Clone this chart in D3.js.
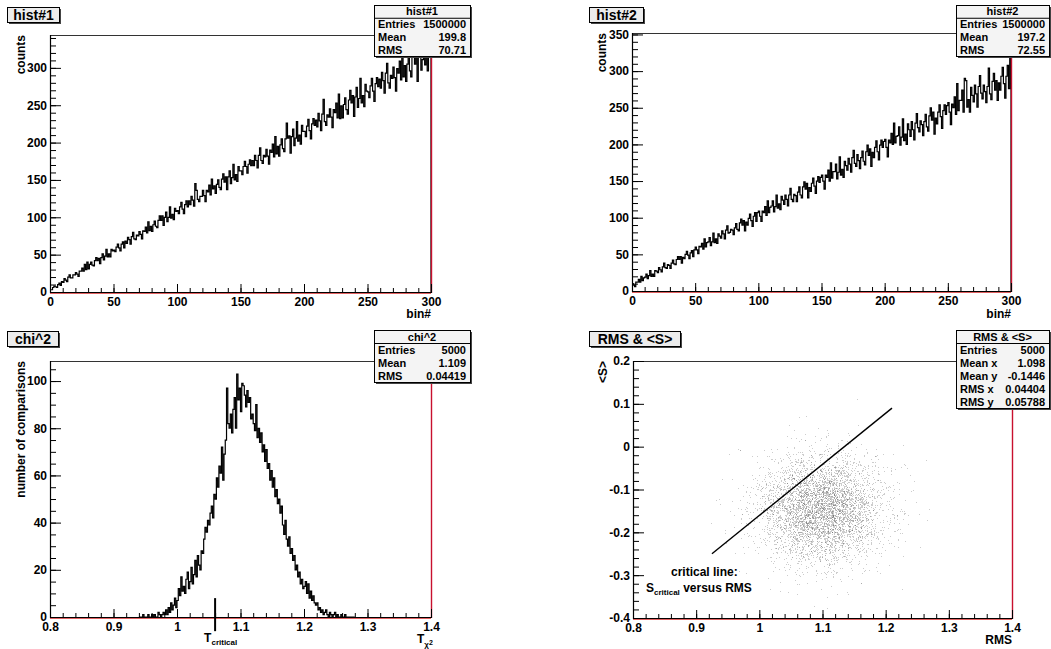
<!DOCTYPE html>
<html>
<head>
<meta charset="utf-8">
<script src="https://cdn.jsdelivr.net/npm/d3@7"></script>
<style>
  body { margin: 0; background: #fff; }
  svg { display: block; font-family: "Liberation Sans", Arial, sans-serif; font-weight: bold; }
</style>
</head>
<body>
<svg id="chart" width="1051" height="649"></svg>
<script>
// ---- data ----
// hist#1 : 300 bins of width 1 on [0,300]
const hist1 = [
  3,3,6,8,7,6,10,12,9,14, 13,18,16,14,20,23,19,19,23,23, 26,24,21,28,28,32,28,37,30,40,
  31,37,40,36,35,42,46,42,45,38, 46,51,43,48,57,47,51,47,57,55, 56,54,60,64,59,55,64,67,59,68,
  65,73,70,64,74,80,71,70,76,75, 81,77,71,82,81,87,79,94,82,88, 81,90,95,88,86,96,102,96,102,89,
  100,107,94,100,114,99,104,97,112,108, 109,105,114,120,111,105,117,122,114,122, 117,128,123,115,145,136,124,121,128,128,
  136,129,121,136,134,143,130,151,138,142, 132,144,150,140,137,151,158,147,154,137, 154,162,145,153,171,150,157,148,168,162,
  162,157,168,175,168,159,171,177,169,176, 169,183,176,166,183,193,176,172,183,181, 191,182,171,190,187,198,181,208,185,195,
  182,197,205,192,188,205,226,206,209,186, 208,218,196,206,228,202,210,198,223,215, 215,208,222,231,216,205,225,232,223,230,
  221,239,229,216,238,258,228,223,237,234, 245,234,220,244,240,253,233,265,232,249, 233,251,260,244,238,257,270,253,263,235,
  261,274,247,259,286,253,263,248,278,269, 268,260,276,286,269,255,279,287,275,285, 273,294,283,266,293,306,280,273,290,286,
  301,287,269,299,293,309,284,323,288,303, 282,305,316,296,288,314,328,305,318,282, 316,332,297,311,346,304,316,296,335,323
];
// hist#2 : 300 bins of width 1 on [0,300]
const hist2 = [
  10,8,6,12,12,16,12,20,14,18, 19,23,17,21,28,20,23,20,28,27, 25,32,29,26,33,38,32,31,36,35,
  31,38,42,37,36,43,47,43,47,38, 46,44,50,54,49,44,52,55,47,56, 60,56,51,61,60,65,57,71,60,66,
  67,73,62,67,79,66,71,65,78,75, 72,82,78,71,83,89,79,80,84,83, 77,86,92,84,82,93,98,90,96,82,
  94,90,99,105,96,88,102,107,95,107, 109,102,95,109,107,115,103,123,107,114, 116,123,108,115,131,113,119,111,129,124,
  118,131,125,116,131,140,125,122,132,130, 122,135,142,131,127,142,149,139,147,127, 141,136,147,154,143,133,150,156,148,155,
  158,150,139,158,155,165,150,175,154,163, 163,173,153,162,183,158,166,155,177,171, 165,181,173,162,182,192,174,170,186,178,
  167,182,191,177,172,190,199,185,194,170, 189,182,196,205,190,179,199,206,196,204, 207,196,183,206,202,215,200,229,202,211,
  212,224,199,210,235,205,214,200,228,220, 211,231,220,206,229,242,223,217,232,227, 212,231,241,224,218,239,250,233,244,214,
  236,228,244,254,238,222,246,254,241,253, 257,244,227,255,250,265,241,283,246,260, 260,274,244,290,287,251,261,244,278,267,
  258,281,269,251,279,294,270,262,281,272, 257,279,304,269,261,286,297,274,287,260, 284,274,293,305,283,263,293,308,276,352
];
// chi^2 : bins of width 0.002 starting at 0.94 (everything below and above is empty)
const chi2Start = 0.94;
const chi2Width = 0.002;
const chi2 = [
  0,0,0,1,0,0,0,1,0,0,  1,0,1,0,0,2,1,0,1,2,  1,3,1,4,2,6,3,5,8,4,
  7,12,9,17,11,13,10,16,19,12,  15,21,14,18,24,17,26,22,20,28,  27,33,38,36,41,39,44,47,42,52,
  50,59,55,64,61,72,58,69,75,97,  82,80,86,78,88,93,80,103,92,97,  87,99,98,94,89,96,91,93,84,86,
  82,79,90,76,80,74,78,70,73,66,  71,63,65,58,62,55,59,51,54,48,  50,44,47,39,35,41,33,30,34,27,
  29,24,26,20,22,17,19,14,16,12,  13,15,10,14,8,11,7,9,6,5,  6,3,4,2,3,1,2,3,1,0,
  2,1,0,1,2,0,1,0,0,1,  0,0,1,0,0,0,0,0,0,0
];
const tCritical = 1.06;
const tCriticalMark = [-6, 8];

// RMS & <S> : estimated point counts in cells of 0.04 x 0.04
const scatterX = [0.90, 0.94, 0.98, 1.02, 1.06, 1.10, 1.14, 1.18, 1.22, 1.26];  // cell left edges
const scatterY = [0.06, 0.02, -0.02, -0.06, -0.10, -0.14, -0.18, -0.22, -0.26, -0.30, -0.34, -0.38]; // cell bottom edges
const scatterCell = 0.04;
const scatterCounts = [
  [0,0,0,0,1,0,1,0,0,0],
  [0,0,0,2,3,4,2,0,0,0],
  [0,0,3,10,20,19,10,2,0,0],
  [0,1,10,42,88,85,40,9,1,0],
  [0,3,26,112,232,226,104,22,2,0],
  [0,5,43,190,395,380,172,36,4,0],
  [1,5,45,200,410,395,178,37,4,0],
  [0,3,31,136,280,270,122,26,3,0],
  [0,2,13,60,122,116,53,11,1,0],
  [0,0,4,17,34,33,15,3,1,0],
  [0,0,1,3,6,6,3,1,0,0],
  [0,0,0,1,1,1,0,0,0,0]
];
const critLineX = [0.925, 1.21];
const critLineY = [-0.25, 0.09];

// stats boxes
const stats1 = [["Entries", "1500000"], ["Mean", "199.8"], ["RMS", "70.71"]];
const stats2 = [["Entries", "1500000"], ["Mean", "197.2"], ["RMS", "72.55"]];
const stats3 = [["Entries", "5000"], ["Mean", "1.109"], ["RMS", "0.04419"]];
const stats4 = [["Entries", "5000"], ["Mean x", "1.098"], ["Mean y", "-0.1446"], ["RMS x", "0.04404"], ["RMS y", "0.05788"]];

// axis ticks
const binTicks = [0, 50, 100, 150, 200, 250, 300];
const count1Ticks = [0, 50, 100, 150, 200, 250, 300];
const count2Ticks = [0, 50, 100, 150, 200, 250, 300, 350];
const tTicks = [0.8, 0.9, 1.0, 1.1, 1.2, 1.3, 1.4];
const compTicks = [0, 20, 40, 60, 80, 100];
const sTicks = [-0.4, -0.3, -0.2, -0.1, 0, 0.1, 0.2];

const svg = d3.select('#chart');
const fmt = d => String(+d.toFixed(3));
let clipId = 0;

// frame + scales of one pad
function makePanel(p) {
  const x = d3.scaleLinear().domain(p.xDomain).range([p.left, p.right]);
  const y = d3.scaleLinear().domain(p.yDomain).range([p.bottom, p.top]);
  svg.append('rect')
    .attr('x', p.left).attr('y', p.top)
    .attr('width', p.right - p.left).attr('height', p.bottom - p.top)
    .attr('fill', '#fff');
  const id = 'clip' + (clipId++);
  svg.append('clipPath').attr('id', id).append('rect')
    .attr('x', p.left).attr('y', p.top)
    .attr('width', p.right - p.left).attr('height', p.bottom - p.top);
  const g = svg.append('g').attr('clip-path', `url(#${id})`);
  return { x, y, g, p };
}

// ROOT style axes: ticks pointing inwards, minor ticks, red right/bottom frame
function drawAxes(P, o) {
  const { x, y, p } = P;
  const xMinor = d3.range(p.xDomain[0], p.xDomain[1] + 1e-9, o.xMinor);
  const yMinor = d3.range(o.yMinorStart, p.yDomain[1] + 1e-9, o.yMinor);

  // frame edges
  svg.append('line').attr('x1', p.left).attr('x2', p.right).attr('y1', p.top + 0.5).attr('y2', p.top + 0.5)
    .attr('stroke', '#333').attr('stroke-width', 1.2);
  svg.append('line').attr('x1', p.right + 0.5).attr('x2', p.right + 0.5).attr('y1', p.top).attr('y2', p.bottom + 1)
    .attr('stroke', '#c8102e').attr('stroke-width', 1.4);
  svg.append('line').attr('x1', p.left).attr('x2', p.right).attr('y1', p.bottom + 1.5).attr('y2', p.bottom + 1.5)
    .attr('stroke', '#e06060').attr('stroke-width', 1);

  const styleAxis = g => {
    g.attr('font-size', 12).attr('font-family', null);
    g.select('.domain').remove();
  };

  svg.append('g').attr('transform', `translate(0,${p.bottom})`)
    .call(d3.axisBottom(x).tickValues(xMinor).tickSize(-4).tickFormat(''))
    .call(styleAxis);
  svg.append('g').attr('transform', `translate(0,${p.bottom})`)
    .call(d3.axisBottom(x).tickValues(o.xTicks).tickSize(-8).tickPadding(5).tickFormat(fmt))
    .call(styleAxis);
  svg.append('g').attr('transform', `translate(${p.left},0)`)
    .call(d3.axisLeft(y).tickValues(yMinor).tickSize(-6).tickFormat(''))
    .call(styleAxis);
  svg.append('g').attr('transform', `translate(${p.left},0)`)
    .call(d3.axisLeft(y).tickValues(o.yTicks).tickSize(-11).tickPadding(3).tickFormat(fmt))
    .call(styleAxis);

  svg.append('line').attr('x1', p.left).attr('x2', p.right + 1).attr('y1', p.bottom + 0.5).attr('y2', p.bottom + 0.5)
    .attr('stroke', '#000').attr('stroke-width', 1.2);
  svg.append('line').attr('x1', p.left + 0.5).attr('x2', p.left + 0.5).attr('y1', p.top).attr('y2', p.bottom + 1)
    .attr('stroke', '#000').attr('stroke-width', 1.2);
}

function titleBox(b, text) {
  svg.append('rect').attr('x', b.x + 2).attr('y', b.y + 2).attr('width', b.w).attr('height', b.h).attr('fill', '#444');
  svg.append('rect').attr('x', b.x + 0.5).attr('y', b.y + 0.5).attr('width', b.w).attr('height', b.h)
    .attr('fill', '#ececec').attr('stroke', '#000').attr('stroke-width', 1);
  svg.append('text').attr('x', b.x + b.w / 2 + 0.5).attr('y', b.y + b.h / 2 + 5.5)
    .attr('text-anchor', 'middle').attr('font-size', 14).text(text);
}

function statsBox(b, title, rows) {
  const rh = b.h / (rows.length + 1);
  svg.append('rect').attr('x', b.x + 2).attr('y', b.y + 2).attr('width', b.w).attr('height', b.h).attr('fill', '#444');
  svg.append('rect').attr('x', b.x + 0.5).attr('y', b.y + 0.5).attr('width', b.w).attr('height', b.h)
    .attr('fill', '#f4f4f4').attr('stroke', '#000').attr('stroke-width', 1);
  svg.append('line').attr('x1', b.x).attr('x2', b.x + b.w).attr('y1', b.y + rh + 0.5).attr('y2', b.y + rh + 0.5)
    .attr('stroke', '#000');
  svg.append('text').attr('x', b.x + b.w / 2).attr('y', b.y + rh - 2.5)
    .attr('text-anchor', 'middle').attr('font-size', 11).text(title);
  rows.forEach((r, i) => {
    const yy = b.y + rh * (i + 2) - 2.5;
    svg.append('text').attr('x', b.x + 4).attr('y', yy).attr('font-size', 11).text(r[0]);
    svg.append('text').attr('x', b.x + b.w - 4).attr('y', yy).attr('text-anchor', 'end').attr('font-size', 11).text(r[1]);
  });
}

function yTitle(xPos, yTop, text) {
  svg.append('text').attr('transform', `translate(${xPos},${yTop}) rotate(-90)`)
    .attr('text-anchor', 'end').attr('font-size', 12).text(text);
}

function xTitle(xRight, yPos, text) {
  svg.append('text').attr('x', xRight).attr('y', yPos).attr('text-anchor', 'end').attr('font-size', 12).text(text);
}

// histogram outline (ROOT "hist" style step line)
function histPath(P, counts, lo, w) {
  const pts = [[lo, 0]];
  counts.forEach((c, i) => { pts.push([lo + i * w, c]); pts.push([lo + (i + 1) * w, c]); });
  pts.push([lo + counts.length * w, 0]);
  P.g.append('path')
    .attr('d', d3.line().x(d => P.x(d[0])).y(d => P.y(d[1]))(pts))
    .attr('fill', 'none').attr('stroke', '#000').attr('stroke-width', 1.2);
}

// ---------- pad 1 : hist#1 ----------
const P1 = makePanel({ left: 50, right: 431, top: 35, bottom: 292, xDomain: [0, 300], yDomain: [0, 344] });
histPath(P1, hist1, 0, 1);
drawAxes(P1, { xTicks: binTicks, xMinor: 10, yTicks: count1Ticks, yMinor: 10, yMinorStart: 0 });
yTitle(25, 35, 'counts');
xTitle(431, 318, 'bin#');
titleBox({ x: 7, y: 7, w: 52, h: 15 }, 'hist#1');
statsBox({ x: 374, y: 5, w: 96, h: 51 }, 'hist#1', stats1);

// ---------- pad 2 : hist#2 ----------
const P2 = makePanel({ left: 632, right: 1011, top: 33, bottom: 291, xDomain: [0, 300], yDomain: [0, 352] });
histPath(P2, hist2, 0, 1);
drawAxes(P2, { xTicks: binTicks, xMinor: 10, yTicks: count2Ticks, yMinor: 10, yMinorStart: 0 });
yTitle(606, 33, 'counts');
xTitle(1011, 318, 'bin#');
titleBox({ x: 589, y: 7, w: 54, h: 15 }, 'hist#2');
statsBox({ x: 956, y: 5, w: 93, h: 51 }, 'hist#2', stats2);

// ---------- pad 3 : chi^2 ----------
const P3 = makePanel({ left: 50, right: 431, top: 361, bottom: 617, xDomain: [0.8, 1.4], yDomain: [0, 108.5] });
histPath(P3, chi2, chi2Start, chi2Width);
drawAxes(P3, { xTicks: tTicks, xMinor: 0.02, yTicks: compTicks, yMinor: 5, yMinorStart: 0 });
svg.append('line')
  .attr('x1', P3.x(tCritical)).attr('x2', P3.x(tCritical))
  .attr('y1', P3.y(tCriticalMark[0])).attr('y2', P3.y(tCriticalMark[1]))
  .attr('stroke', '#000').attr('stroke-width', 2);
const tc = svg.append('text').attr('x', P3.x(tCritical) - 11).attr('y', 642).attr('font-size', 12);
tc.append('tspan').text('T');
tc.append('tspan').attr('font-size', 8).attr('dy', 3).text('critical');
const tx = svg.append('text').attr('x', 417).attr('y', 643).attr('font-size', 12);
tx.append('tspan').text('T');
tx.append('tspan').attr('font-size', 8).attr('dy', 4).text('χ');
tx.append('tspan').attr('font-size', 7).attr('dy', -2).text('2');
yTitle(25, 361, 'number of comparisons');
titleBox({ x: 7, y: 331, w: 51, h: 15 }, 'chi^2');
statsBox({ x: 374, y: 330, w: 96, h: 52 }, 'chi^2', stats3);

// ---------- pad 4 : RMS & <S> ----------
const P4 = makePanel({ left: 633, right: 1012, top: 361, bottom: 618, xDomain: [0.8, 1.4], yDomain: [-0.4, 0.2] });
{
  // each cell's points are spread with a triangular kernel over its neighbours (dither only)
  const jitter = n => { const s = Math.sin(n * 12.9898) * 43758.5453; return s - Math.floor(s); };
  let k = 0;
  const dots = [];
  scatterCounts.forEach((row, r) => row.forEach((n, c) => {
    for (let i = 0; i < n; i++) {
      k += 4;
      const u = jitter(k) + jitter(k + 1) - 0.5;
      const v = jitter(k + 2) + jitter(k + 3) - 0.5;
      dots.push([scatterX[c] + u * scatterCell, scatterY[r] + v * scatterCell]);
    }
  }));
  P4.g.selectAll('rect.dot').data(dots).join('rect')
    .attr('class', 'dot')
    .attr('x', d => Math.round(P4.x(d[0]))).attr('y', d => Math.round(P4.y(d[1])))
    .attr('width', 1).attr('height', 1)
    .attr('fill', '#666').attr('fill-opacity', 0.33);
}
P4.g.append('line')
  .attr('x1', P4.x(critLineX[0])).attr('y1', P4.y(critLineY[0]))
  .attr('x2', P4.x(critLineX[1])).attr('y2', P4.y(critLineY[1]))
  .attr('stroke', '#000').attr('stroke-width', 1.4);
drawAxes(P4, { xTicks: tTicks, xMinor: 0.02, yTicks: sTicks, yMinor: 0.02, yMinorStart: -0.4 });
svg.append('text').attr('x', 671).attr('y', 576).attr('font-size', 12).text('critical line:');
const sc = svg.append('text').attr('x', 646).attr('y', 592).attr('font-size', 12);
sc.append('tspan').text('S');
sc.append('tspan').attr('font-size', 8).attr('dy', 3).text('critical');
sc.append('tspan').attr('dy', -3).text(' versus RMS');
yTitle(607, 361, '<S>');
xTitle(1012, 644, 'RMS');
titleBox({ x: 589, y: 331, w: 91, h: 15 }, 'RMS & <S>');
statsBox({ x: 956, y: 330, w: 93, h: 78 }, 'RMS & <S>', stats4);
</script>
</body>
</html>
